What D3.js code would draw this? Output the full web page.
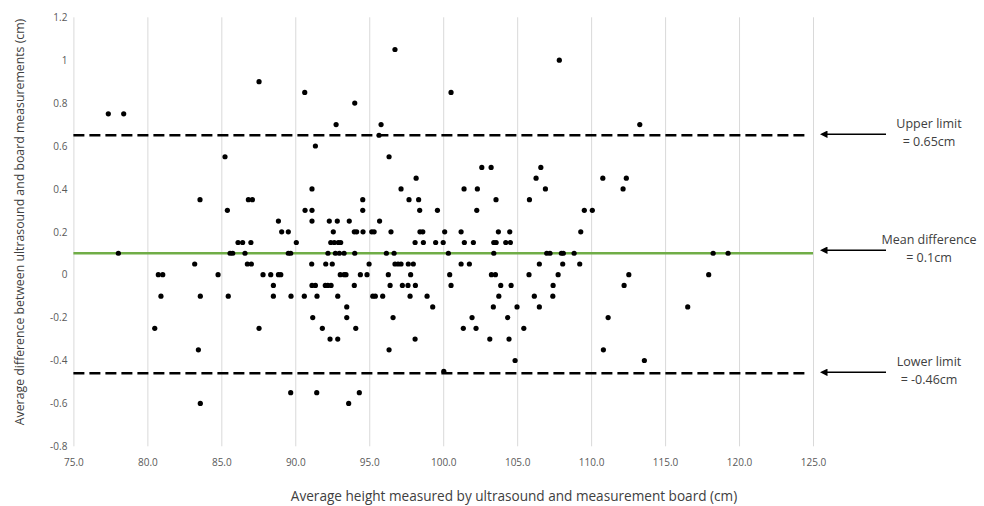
<!DOCTYPE html>
<html>
<head>
<meta charset="utf-8">
<script src="https://cdn.jsdelivr.net/npm/d3@7"></script>
<style>
  body { margin: 0; background: #fff; }
  text { font-family: "Open Sans", "Liberation Sans", sans-serif; }
</style>
</head>
<body>
<script>
'use strict';

// difference levels (cm) and the average heights (cm) of the points on each level
const diffLevels = [1.05, 1.0, 0.9, 0.85, 0.8, 0.75, 0.7, 0.65, 0.6, 0.55, 0.5, 0.45, 0.4, 0.35, 0.3, 0.25, 0.2,
  0.15, 0.1, 0.05, 0.0, -0.05, -0.1, -0.15, -0.2, -0.25, -0.3, -0.35, -0.4, -0.45, -0.55, -0.6];
const heightsByLevel = [
  [96.74],
  [107.85],
  [87.55],
  [90.64, 100.53],
  [94.02],
  [77.36, 78.40],
  [92.76, 95.80, 113.29],
  [95.66],
  [91.36],
  [85.25, 96.34],
  [102.61, 103.24, 106.6],
  [98.17, 106.28, 110.79, 112.38],
  [91.13, 97.15, 101.41, 102.31, 106.91, 112.16],
  [83.56, 86.83, 87.10, 94.56, 97.69, 98.34, 103.57, 105.83],
  [85.41, 90.66, 91.13, 94.56, 98.41, 99.61, 102.27, 109.54, 110.08],
  [88.86, 91.13, 92.30, 92.84, 93.65, 95.70],
  [89.08, 89.53, 92.57, 93.99, 94.15, 94.58, 95.17, 95.33, 96.47, 98.43, 98.62, 100.1, 101.21, 103.73, 104.5, 109.3],
  [86.13, 86.44, 87.0, 90.07, 92.4, 92.64, 92.91, 93.07, 98.1, 98.66, 99.49, 100.0, 101.43, 102.04, 103.42, 103.58, 104.23, 104.54],
  [78.04, 85.59, 85.77, 86.6, 89.53, 89.69, 92.21, 92.71, 92.98, 93.30, 94.02, 96.16, 96.68, 100.35, 103.42, 107.0, 107.22, 107.99, 108.12, 108.85, 118.25, 119.26],
  [83.20, 86.76, 87.03, 91.11, 92.06, 92.5, 94.99, 96.74, 96.95, 97.15, 97.64, 97.98, 101.21, 101.77, 106.5, 108.08, 109.23],
  [80.74, 81.04, 84.78, 87.82, 88.34, 88.86, 89.02, 93.04, 93.3, 93.43, 94.40, 94.85, 96.29, 97.80, 100.44, 103.26, 103.53, 105.8, 107.77, 112.55, 117.95],
  [88.52, 91.13, 91.36, 92.03, 92.2, 92.42, 93.99, 96.41, 97.24, 97.62, 98.12, 100.53, 103.89, 104.59, 107.43, 112.23],
  [80.92, 83.58, 85.47, 88.52, 89.71, 90.61, 91.47, 92.87, 95.24, 95.41, 95.91, 97.76, 98.91, 103.76, 106.16, 107.41],
  [93.48, 99.29, 103.39, 104.99, 106.5, 116.53],
  [91.18, 93.48, 96.61, 101.95, 104.36, 111.15],
  [80.50, 87.55, 91.83, 94.09, 101.36, 102.22, 105.45],
  [92.35, 92.87, 98.1, 103.15, 104.45],
  [83.45, 96.34, 110.83],
  [104.86, 113.6],
  [100.04],
  [89.69, 91.45, 94.33],
  [83.58, 93.61]
];

// axis ticks
const xTicks = [75, 80, 85, 90, 95, 100, 105, 110, 115, 120, 125];
const yTicks = [-0.8, -0.6, -0.4, -0.2, 0, 0.2, 0.4, 0.6, 0.8, 1, 1.2];

// limits of agreement and mean difference
const limitValues = [0.65, 0.1, -0.46];
const limitTitles = ["Upper limit", "Mean difference", "Lower limit"];
const limitNotes = ["= 0.65cm", "= 0.1cm", "= -0.46cm"];

(function() {

  let svgContainer = "";

  window.onload = function() {
    svgContainer = d3.select('body')
      .append('svg')
      .attr('width', 984)
      .attr('height', 506);

    // flatten the levels into points
    let points = [];
    diffLevels.forEach((level, i) => {
      heightsByLevel[i].forEach((h) => points.push({ x: h, y: level }));
    });

    let xScale = d3.scaleLinear()
      .domain([75, 125])
      .range([73.4, 813]);

    let yScale = d3.scaleLinear()
      .domain([-0.8, 1.2])
      .range([446.3, 17.3]);

    drawAxes(xScale, yScale);
    drawLines(xScale, yScale);
    plotData(points, xScale, yScale);
    drawNotes(yScale);
    makeLabels();
  }

  // vertical gridlines + tick labels
  function drawAxes(xScale, yScale) {
    let xAxis = d3.axisBottom(xScale)
      .tickValues(xTicks)
      .tickSize(-(446.3 - 17.3))
      .tickPadding(13)
      .tickFormat(d3.format('.1f'));

    let gx = svgContainer.append('g')
      .attr('transform', 'translate(0, 446.3)')
      .call(xAxis);
    gx.select('.domain').remove();
    gx.selectAll('line').attr('stroke', '#d9d9d9');
    gx.selectAll('text')
      .attr('fill', '#595959')
      .style('font-size', '10px');

    let yAxis = d3.axisLeft(yScale)
      .tickValues(yTicks)
      .tickSize(0)
      .tickPadding(6)
      .tickFormat((d) => String(Math.round(d * 10) / 10));

    let gy = svgContainer.append('g')
      .attr('transform', 'translate(73.4, 0)')
      .call(yAxis);
    gy.select('.domain').remove();
    gy.selectAll('text')
      .attr('fill', '#595959')
      .style('font-size', '10px');
  }

  // limit lines and mean line
  function drawLines(xScale, yScale) {
    svgContainer.selectAll('.limit')
      .data([limitValues[0], limitValues[2]])
      .enter()
      .append('line')
        .attr('x1', xScale(75))
        .attr('x2', xScale(124.7))
        .attr('y1', (d) => yScale(d))
        .attr('y2', (d) => yScale(d))
        .attr('stroke', '#000')
        .attr('stroke-width', 2.5)
        .attr('stroke-dasharray', '11,5');

    svgContainer.append('line')
      .attr('x1', xScale(75))
      .attr('x2', xScale(125))
      .attr('y1', yScale(limitValues[1]))
      .attr('y2', yScale(limitValues[1]))
      .attr('stroke', '#70ad47')
      .attr('stroke-width', 2.5);
  }

  // scatter points
  function plotData(points, xScale, yScale) {
    svgContainer.selectAll('.dot')
      .data(points)
      .enter()
      .append('circle')
        .attr('cx', (d) => xScale(d.x))
        .attr('cy', (d) => yScale(d.y))
        .attr('r', 2.6)
        .attr('fill', '#000');
  }

  // arrows and notes on the right
  function drawNotes(yScale) {
    let defs = svgContainer.append('defs');
    defs.append('marker')
      .attr('id', 'head')
      .attr('viewBox', '0 0 10 10')
      .attr('refX', 2)
      .attr('refY', 5)
      .attr('markerWidth', 5)
      .attr('markerHeight', 5)
      .attr('orient', 'auto-start-reverse')
      .append('path')
        .attr('d', 'M0,0 L10,5 L0,10 z')
        .attr('fill', '#000');

    let arrowY = limitValues.map((v, i) => yScale(v) - (i == 1 ? 3 : 1));

    svgContainer.selectAll('.arrow')
      .data(arrowY)
      .enter()
      .append('line')
        .attr('x1', 886)
        .attr('x2', 826)
        .attr('y1', (d) => d)
        .attr('y2', (d) => d)
        .attr('stroke', '#000')
        .attr('stroke-width', 1.5)
        .attr('marker-end', 'url(#head)');

    svgContainer.selectAll('.noteTitle')
      .data(limitTitles)
      .enter()
      .append('text')
        .attr('x', 929)
        .attr('y', (d, i) => arrowY[i] - 6)
        .attr('text-anchor', 'middle')
        .attr('fill', '#404040')
        .style('font-size', '12.5px')
        .text((d) => d);

    svgContainer.selectAll('.noteValue')
      .data(limitNotes)
      .enter()
      .append('text')
        .attr('x', 929)
        .attr('y', (d, i) => arrowY[i] + 12)
        .attr('text-anchor', 'middle')
        .attr('fill', '#404040')
        .style('font-size', '12.5px')
        .text((d) => d);
  }

  // axes titles
  function makeLabels() {
    svgContainer.append('text')
      .attr('x', 514)
      .attr('y', 501)
      .attr('text-anchor', 'middle')
      .attr('fill', '#404040')
      .style('font-size', '13.6px')
      .text('Average height measured by ultrasound and measurement board (cm)');

    svgContainer.append('text')
      .attr('transform', 'translate(24, 222)rotate(-90)')
      .attr('text-anchor', 'middle')
      .attr('fill', '#404040')
      .style('font-size', '12.3px')
      .text('Average difference between ultrasound and board measurements (cm)');
  }

})();
</script>
</body>
</html>
